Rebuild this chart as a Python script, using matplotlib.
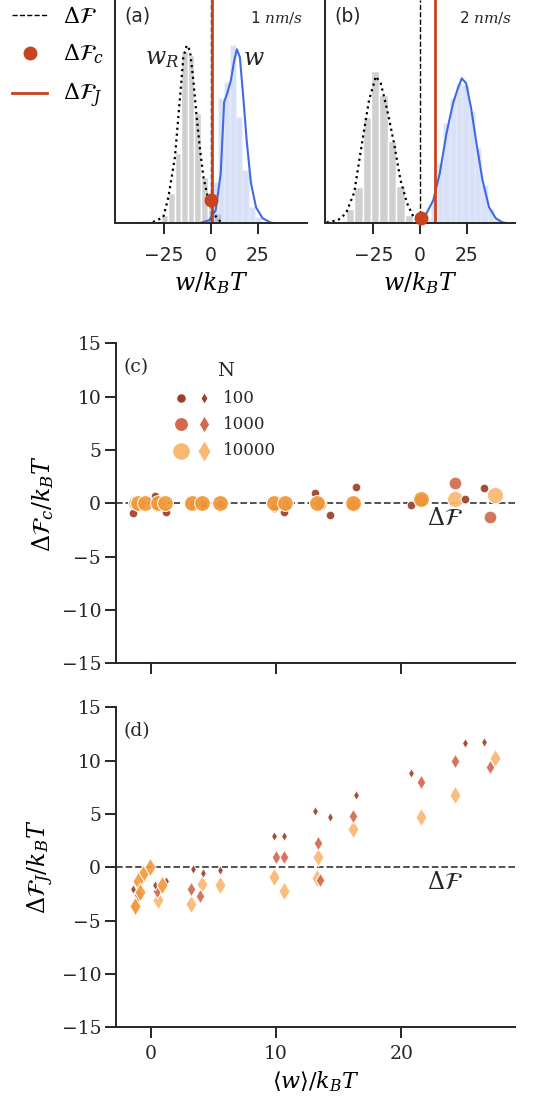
import numpy as np
import matplotlib
matplotlib.use("Agg")
import matplotlib.pyplot as plt
from matplotlib.lines import Line2D
from matplotlib.legend_handler import HandlerTuple

plt.rcParams['font.family'] = ['DejaVu Sans']
plt.rcParams['mathtext.fontset'] = 'dejavuserif'

# ---- panel (a): 1 nm/s, work histograms (density units) ----
gray_a_x = [-24.5, -21, -17.5, -14, -10.5, -7, -3.5, 0, 3.5]
gray_a_h = [0.0024, 0.009, 0.021, 0.0516, 0.0504, 0.033, 0.0138, 0.006, 0.003]
blue_a_x = [-1.3, 2.0, 5.3, 8.6, 11.9, 15.2, 18.5, 21.8, 25.1]
blue_a_h = [0.0012, 0.0123, 0.0375, 0.0423, 0.0534, 0.0318, 0.0159, 0.0048, 0.0018]
kde_gray_a_x = [-37, -32, -25.3, -22.6, -19.1, -16.4, -14.6, -12.8, -11.1, -9.3,
                -7.5, -5.7, -3.9, -2.1, 0.6, 3.3, 6, 8]
kde_gray_a_y = [0, 0.0001, 0.0018, 0.0078, 0.0198, 0.0378, 0.0498, 0.0534, 0.0519, 0.0429,
                0.0318, 0.0219, 0.0138, 0.009, 0.0039, 0.0015, 0.0001, 0]
kde_blue_a_x = [-6.2, -0.9, 2.6, 5.3, 7.1, 8.9, 10.7, 12.5, 13.9, 15.5, 17.3, 19.1,
                21.4, 24.1, 27.6, 32, 34.7]
kde_blue_a_y = [0, 0.0009, 0.0039, 0.015, 0.0363, 0.0393, 0.0429, 0.0489, 0.0522, 0.0498,
                0.0378, 0.0249, 0.012, 0.0048, 0.0015, 0.0002, 0]
Fc_a, Fc_a_y = 0.0, 0.0071
FJ_a = 0.7

# ---- panel (b): 2 nm/s ----
gray_b_x = [-37.5, -33, -28.5, -24, -19.5, -15, -10.5, -6, -1.5]
gray_b_h = [0.0042, 0.0108, 0.0318, 0.0456, 0.0384, 0.0246, 0.0111, 0.0024, 0.0006]
blue_b_x = [4, 7.4, 10.8, 14.2, 17.6, 21, 24.4, 27.8, 31.2, 34.6, 38, 41.4]
blue_b_h = [0.0012, 0.0069, 0.018, 0.03, 0.0375, 0.042, 0.0414, 0.0336, 0.0225,
            0.0114, 0.0042, 0.0012]
kde_gray_b_x = [-50, -44, -39.6, -35.2, -30.8, -27.3, -23.6, -21, -17.5, -13.9,
                -10.4, -6.9, -3.4, 0.2, 3]
kde_gray_b_y = [0.0003, 0.0009, 0.003, 0.0093, 0.0249, 0.0369, 0.0441, 0.042, 0.0339,
                0.024, 0.0129, 0.006, 0.0018, 0.0003, 0]
kde_blue_b_x = [0, 3.5, 7.1, 10.6, 14.2, 17.7, 20.3, 22.4, 24.7, 27.3, 30, 33.5, 37,
                40.6, 44.1, 47]
kde_blue_b_y = [0.00015, 0.003, 0.0069, 0.015, 0.027, 0.036, 0.0405, 0.0435, 0.042,
                0.0348, 0.0249, 0.0129, 0.0048, 0.0015, 0.0003, 0]
Fc_b, Fc_b_y = 0.5, 0.0015
FJ_b = 7.9

# ---- panels (c), (d): estimators vs mean work ----
N100_w = [-1.4, 0.35, 1.2, 3.35, 4.15, 5.5, 9.8, 10.6, 13.1, 14.3, 16.4, 20.75, 25.1, 26.6]
N100_Fc = [-0.9, 0.7, -0.8, -0.1, -0.1, -0.1, -0.45, -0.8, 1.0, -1.1, 1.5, -0.2, 0.4, 1.4]
N100_FJ = [-2.0, -1.7, -1.25, -0.15, -0.55, -0.3, 2.9, 2.9, 5.3, 4.7, 6.8, 8.85, 11.6, 11.7]

N1000_w = [-1.0, 0.5, 3.2, 3.95, 9.95, 10.6, 13.35, 13.5, 16.1, 21.55, 24.25, 27.05]
N1000_Fc = [-0.1, 0.0, -0.1, -0.1, -0.2, -0.2, 0.0, -0.1, -0.2, 0.3, 1.9, -1.25]
N1000_FJ = [-2.6, -2.2, -2.05, -2.65, 1.0, 1.0, 2.25, -1.15, 4.8, 8.0, 10.0, 9.35]

N10000_w = [-1.2, 0.6, 3.2, 4.05, 5.5, 9.8, 10.65, 13.3, 13.25, 16.1, 21.55, 24.3, 27.5]
N10000_Fc = [0.0, -0.1, 0.0, 0.0, 0.0, 0.0, 0.0, 0.0, 0.0, -0.1, 0.4, 0.4, 0.8]
N10000_FJ = [-3.6, -3.1, -3.45, -1.55, -1.7, -0.95, -2.2, 0.95, -1.05, 3.6, 4.75, 6.8, 10.25]

# extra (saturated orange) points, not in the legend
extra_c_w = [-1.0, -0.45, 0.6, 1.15, 3.25, 4.05, 5.5, 9.8, 10.7, 13.25, 16.1, 21.55]
extra_c_F = [0, 0, 0, 0, 0, 0, 0, 0, 0, 0, 0, 0.4]
extra_d_w = [-0.05, -0.6, -1.0, -0.85, -1.25, 0.9]
extra_d_F = [0.0, -0.6, -1.25, -2.35, -3.6, -1.7]

N_labels = ['100', '1000', '10000']
col_N = ['#9b4129', '#d2694f', '#f9b872']
col_extra = '#f29a3a'
red = '#c8431f'
blue = '#4169e1'
ink = '#262626'

fig = plt.figure(figsize=(5.35, 11), dpi=100)
ax_a = fig.add_axes([0.215, 0.797, 0.358, 0.203])
ax_b = fig.add_axes([0.607, 0.797, 0.356, 0.203])
ax_c = fig.add_axes([0.2165, 0.397, 0.747, 0.291])
ax_d = fig.add_axes([0.2165, 0.0661, 0.747, 0.291])


def style(ax):
    for s in ['top', 'right']:
        ax.spines[s].set_visible(False)
    for s in ['left', 'bottom']:
        ax.spines[s].set_linewidth(1.4)
        ax.spines[s].set_color(ink)
    ax.tick_params(direction='out', length=8, width=1.4, color=ink, labelcolor=ink)


tops = [(ax_a, gray_a_x, gray_a_h, 3.5, blue_a_x, blue_a_h, 3.3, kde_gray_a_x, kde_gray_a_y,
         kde_blue_a_x, kde_blue_a_y, Fc_a, Fc_a_y, FJ_a, '(a)', '1 $nm/s$'),
        (ax_b, gray_b_x, gray_b_h, 4.5, blue_b_x, blue_b_h, 3.4, kde_gray_b_x, kde_gray_b_y,
         kde_blue_b_x, kde_blue_b_y, Fc_b, Fc_b_y, FJ_b, '(b)', '2 $nm/s$')]

for (ax, gx, gh, gw, bx, bh, bw, kgx, kgy, kbx, kby, fc, fcy, fj, tag, speed) in tops:
    style(ax)
    ax.bar(gx, gh, width=gw, color='#d0d0d0', edgecolor='white', linewidth=1)
    ax.bar(bx, bh, width=bw, color=blue, alpha=0.2, edgecolor='white', linewidth=1)
    ax.plot(kgx, kgy, ':', color='black', lw=1.6)
    ax.plot(kbx, kby, '-', color=blue, lw=1.5)
    ax.axvline(0, color='black', ls='--', lw=1.0)
    ax.axvline(fj, color=red, lw=2)
    ax.plot([fc], [fcy], 'o', color=red, ms=9, clip_on=False, zorder=5)
    ax.set_xlim(-51, 51)
    ax.set_ylim(0, 0.067)
    ax.set_yticks([])
    ax.set_xticks([-25, 0, 25])
    ax.tick_params(axis='x', labelsize=13.5, pad=8)
    ax.set_xlabel('$w/k_BT$', fontsize=17, labelpad=4)
    ax.text(0.05, 0.97, tag, transform=ax.transAxes, va='top', fontsize=13.5, color=ink)
    ax.text(0.985, 0.96, speed, transform=ax.transAxes, va='top', ha='right', fontsize=11,
            color=ink)

ax_a.text(-17, 0.0495, '$w_R$', ha='right', va='center', fontsize=17, color=ink)
ax_a.text(17, 0.0495, '$w$', ha='left', va='center', fontsize=17, color=ink)

leg_top = [Line2D([], [], color='black', ls='--', lw=1.0),
           Line2D([], [], color=red, marker='o', ls='none', ms=9),
           Line2D([], [], color=red, lw=2)]
fig.legend(leg_top, [r'$\Delta\mathcal{F}$', r'$\Delta\mathcal{F}_c$', r'$\Delta\mathcal{F}_J$'],
           loc='upper left', bbox_to_anchor=(0.022, 0.994), frameon=False, fontsize=16,
           handlelength=1.6, handletextpad=0.7, labelspacing=0.72, borderpad=0,
           borderaxespad=0)

sizes_o = [40, 85, 135]
sizes_d = [26, 56, 90]
groups = [(N10000_w, N10000_Fc, N10000_FJ, 2), (N1000_w, N1000_Fc, N1000_FJ, 1),
          (N100_w, N100_Fc, N100_FJ, 0)]

for ax, key, mk, sizes in [(ax_c, 1, 'o', sizes_o), (ax_d, 2, 'd', sizes_d)]:
    style(ax)
    ax.axhline(0, color='#444444', ls='--', lw=1.3, zorder=1)
    for g in groups:
        i = g[3]
        ax.scatter(g[0], g[key], s=sizes[i], marker=mk, color=col_N[i], edgecolor='white',
                   linewidth=0.8, alpha=0.92, zorder=3)
    ax.set_xlim(-2.8, 29.1)
    ax.set_ylim(-15, 15)
    ax.set_yticks([-15, -10, -5, 0, 5, 10, 15])
    ax.set_xticks([0, 10, 20])
    ax.tick_params(labelsize=13.5)
    ax.tick_params(axis='y', pad=2.5)
    ax.tick_params(axis='x', pad=5)
    for lab in ax.get_xticklabels() + ax.get_yticklabels():
        lab.set_fontfamily('DejaVu Serif')
    ax.text(22.0, -0.3, r'$\Delta\mathcal{F}$', ha='left', va='top', fontsize=17, color=ink)

ax_c.scatter(extra_c_w, extra_c_F, s=130, marker='o', color=col_extra, edgecolor='white',
             linewidth=0.8, alpha=0.92, zorder=4)
ax_d.scatter(extra_d_w, extra_d_F, s=90, marker='d', color=col_extra, edgecolor='white',
             linewidth=0.8, alpha=0.92, zorder=4)

ax_c.tick_params(axis='x', labelbottom=False)
ax_c.text(0.02, 0.955, '(c)', transform=ax_c.transAxes, va='top', fontsize=13.5,
          fontfamily='DejaVu Serif', color=ink)
ax_d.text(0.02, 0.955, '(d)', transform=ax_d.transAxes, va='top', fontsize=13.5,
          fontfamily='DejaVu Serif', color=ink)
ax_c.set_ylabel(r'$\Delta\mathcal{F}_c/k_BT$', fontsize=17)
ax_d.set_ylabel(r'$\Delta\mathcal{F}_J/k_BT$', fontsize=17)
ax_d.set_xlabel(r'$\langle w\rangle/k_BT$', fontsize=16)

# legend for N (circle + diamond pairs)
handles = []
for i in range(3):
    h_o = ax_c.scatter([], [], s=sizes_o[i] * 1.2, marker='o', color=col_N[i],
                       edgecolor='white', linewidth=0.8)
    h_d = ax_c.scatter([], [], s=sizes_d[i] * 1.4, marker='d', color=col_N[i],
                       edgecolor='white', linewidth=0.8)
    handles.append((h_o, h_d))
leg = ax_c.legend(handles, N_labels, handler_map={tuple: HandlerTuple(ndivide=None, pad=0.7)},
                  title='N', loc='upper left', bbox_to_anchor=(0.15, 0.94), frameon=False,
                  fontsize=12, title_fontsize=14, handlelength=2.0, handletextpad=0.8,
                  labelspacing=0.55, borderpad=0, borderaxespad=0)
for t in leg.get_texts():
    t.set_fontfamily('DejaVu Serif')
    t.set_color(ink)
leg.get_title().set_fontfamily('DejaVu Serif')
leg.get_title().set_color(ink)

fig.savefig('out.png', dpi=100)
